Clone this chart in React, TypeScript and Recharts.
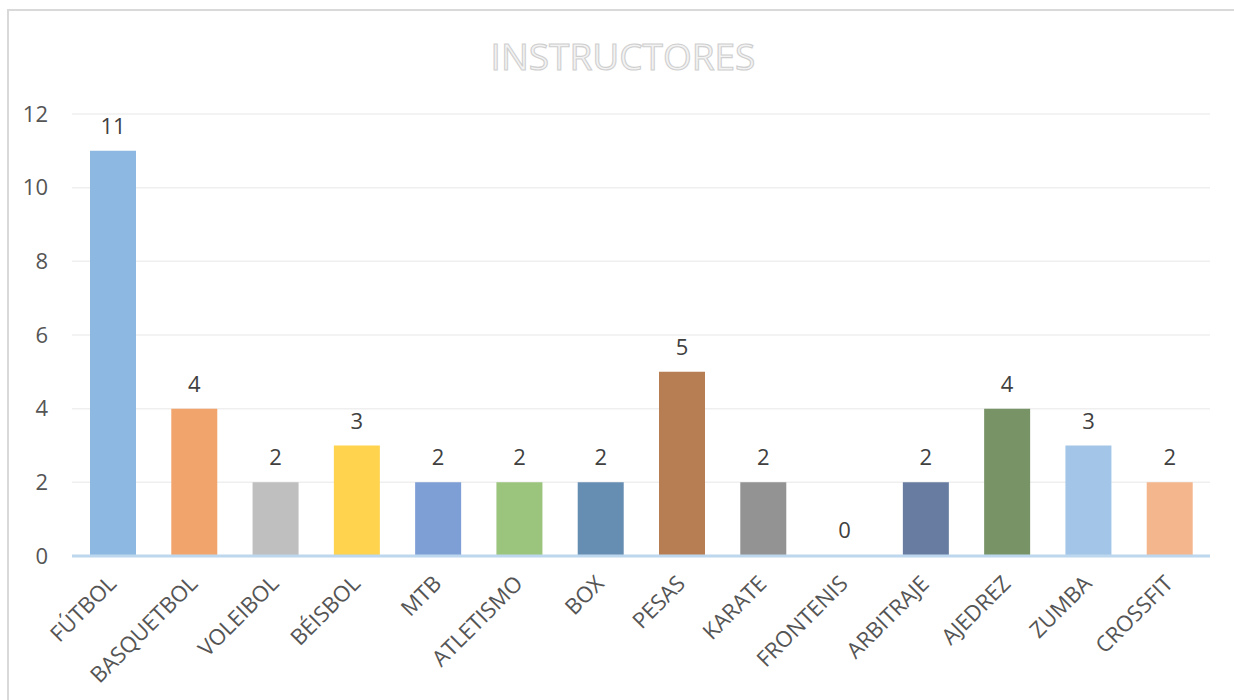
import { BarChart, Bar, XAxis, YAxis, CartesianGrid, Cell, LabelList } from 'recharts';

const deportes = [
  'FÚTBOL',
  'BASQUETBOL',
  'VOLEIBOL',
  'BÉISBOL',
  'MTB',
  'ATLETISMO',
  'BOX',
  'PESAS',
  'KARATE',
  'FRONTENIS',
  'ARBITRAJE',
  'AJEDREZ',
  'ZUMBA',
  'CROSSFIT',
];
const instructores = [11, 4, 2, 3, 2, 2, 2, 5, 2, 0, 2, 4, 3, 2];
const colores = [
  '#8cb8e1',
  '#f2a46d',
  '#bfbfbf',
  '#ffd34d',
  '#7e9ed6',
  '#9bc47d',
  '#668eb3',
  '#b87e53',
  '#939393',
  'transparent',
  '#687ca2',
  '#789467',
  '#a3c6e8',
  '#f4b68c',
];
const yTicks = [0, 2, 4, 6, 8, 10, 12];

const rows = deportes.map((name, i) => ({ name, value: instructores[i] }));

const FONT = '"Open Sans", sans-serif';
const TXT = 22;

// category labels are slanted like the spreadsheet export
function SlantTick({ x, y, payload }: any) {
  return (
    <g transform={`translate(${x + 5},${y + 29})`}>
      <text
        textAnchor="end"
        transform="rotate(-45)"
        fill="#555555"
        fontSize={TXT}
        fontFamily={FONT}
      >
        {payload.value}
      </text>
    </g>
  );
}

export default function App() {
  return (
    <div
      style={{
        position: 'absolute',
        left: 0,
        top: 0,
        width: 1234,
        height: 700,
        overflow: 'hidden',
        background: '#fff',
      }}
    >
      <div
        style={{
          position: 'absolute',
          left: 7,
          top: 9,
          width: 1260,
          height: 720,
          borderLeft: '2px solid #d9d9d9',
          borderTop: '2px solid #d9d9d9',
        }}
      />
      <BarChart
        width={1234}
        height={700}
        data={rows}
        margin={{ top: 114, right: 24, bottom: 14, left: 12 }}
        style={{ position: 'absolute', left: 0, top: 0 }}
      >
        <text
          x={623}
          y={70}
          textAnchor="middle"
          fontSize={37}
          fontFamily={FONT}
          fill="#f3f3f3"
          stroke="#cfcfcf"
          strokeWidth={1.1}
        >
          INSTRUCTORES
        </text>
        <CartesianGrid vertical={false} stroke="#efefef" strokeWidth={1.5} />
        <XAxis
          dataKey="name"
          interval={0}
          height={130}
          tickLine={false}
          tickSize={0}
          tickMargin={0}
          axisLine={{ stroke: '#bdd7ee', strokeWidth: 3 }}
          tick={<SlantTick />}
        />
        <YAxis
          domain={[0, 12]}
          ticks={yTicks}
          width={60}
          axisLine={false}
          tickLine={false}
          tickSize={0}
          tickMargin={24}
          tick={{ fill: '#555555', fontSize: TXT, fontFamily: FONT }}
        />
        <Bar dataKey="value" barSize={46} minPointSize={1} isAnimationActive={false}>
          {rows.map((r, i) => (
            <Cell key={r.name} fill={colores[i]} />
          ))}
          <LabelList
            dataKey="value"
            position="top"
            offset={17}
            fill="#404040"
            fontSize={TXT}
            fontFamily={FONT}
          />
        </Bar>
      </BarChart>
    </div>
  );
}
